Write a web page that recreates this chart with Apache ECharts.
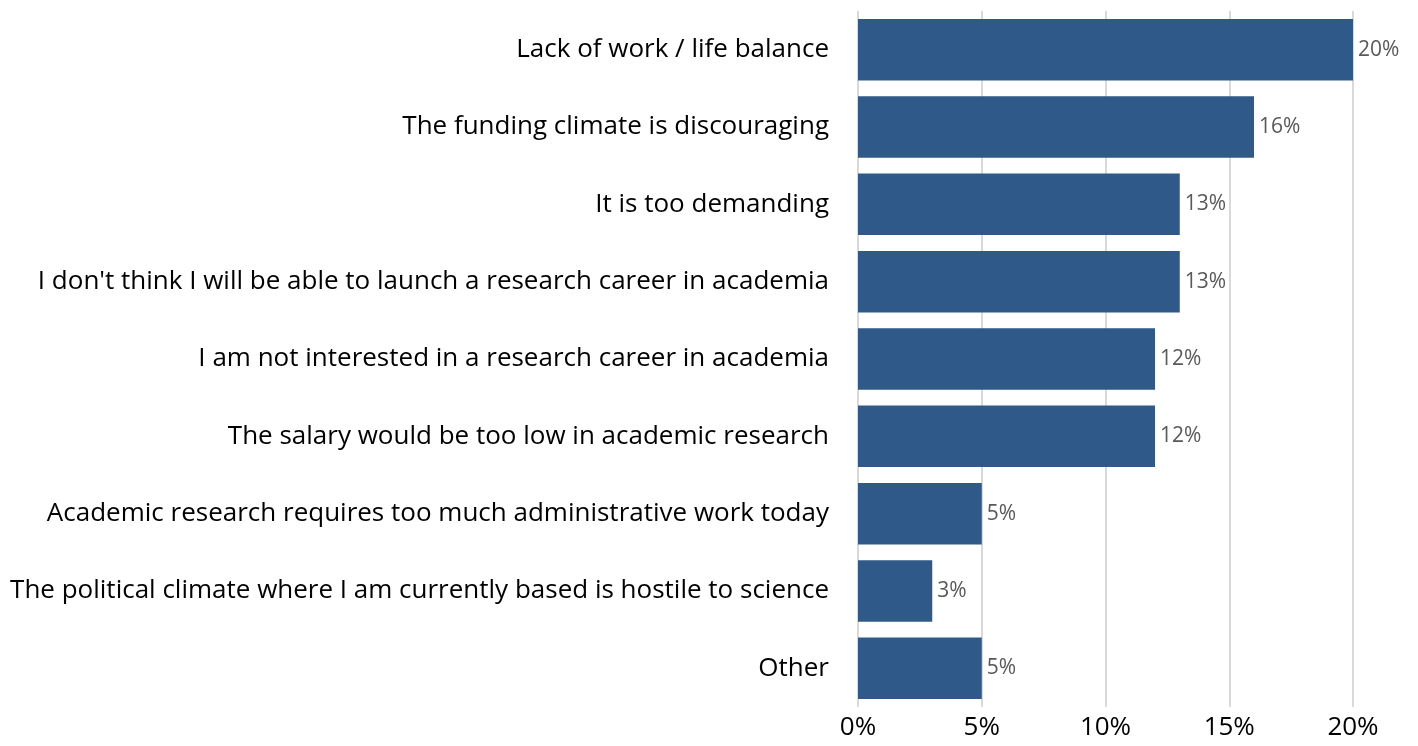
<!DOCTYPE html>
<html>
<head>
<meta charset="utf-8">
<script src="https://cdn.jsdelivr.net/npm/echarts@6/dist/echarts.min.js"></script>
<style>
  html, body { margin: 0; padding: 0; background: #fff; }
  #chart { width: 1418px; height: 746px; }
</style>
</head>
<body>
<div id="chart"></div>
<script>
// Reasons for not pursuing a research career in academia (share of respondents, %)
const categories = [
  "Lack of work / life balance",
  "The funding climate is discouraging",
  "It is too demanding",
  "I don't think I will be able to launch a research career in academia",
  "I am not interested in a research career in academia",
  "The salary would be too low in academic research",
  "Academic research requires too much administrative work today",
  "The political climate where I am currently based is hostile to science",
  "Other"
];
const shares = [20, 16, 13, 13, 12, 12, 5, 3, 5];
const tickValues = [0, 5, 10, 15, 20];

const FONT = "Open Sans";
const chart = echarts.init(document.getElementById('chart'), null, { renderer: 'canvas' });

chart.setOption({
  animation: false,
  grid: { left: 858, right: 65, top: 11, bottom: 39, containLabel: false },
  xAxis: {
    type: 'value',
    min: 0,
    max: 20,
    interval: 5,
    axisLine: { show: false },
    axisTick: { show: false },
    splitLine: { show: true, lineStyle: { color: '#d9d9d9', width: 2 } },
    axisLabel: {
      color: '#000',
      fontFamily: FONT,
      fontSize: 26,
      margin: 8,
      formatter: v => tickValues.includes(v) ? v + '%' : ''
    }
  },
  yAxis: {
    type: 'category',
    inverse: true,
    data: categories,
    axisLine: { show: false },
    axisTick: { show: false },
    axisLabel: { color: '#000', fontFamily: FONT, fontSize: 26, margin: 29 }
  },
  series: [{
    type: 'bar',
    data: shares,
    barCategoryGap: '20.5%',
    itemStyle: { color: '#2e5989' },
    label: {
      show: true,
      position: 'right',
      distance: 5,
      color: '#595959',
      fontFamily: FONT,
      fontSize: 21,
      formatter: p => p.value + '%'
    }
  }]
});
</script>
</body>
</html>
